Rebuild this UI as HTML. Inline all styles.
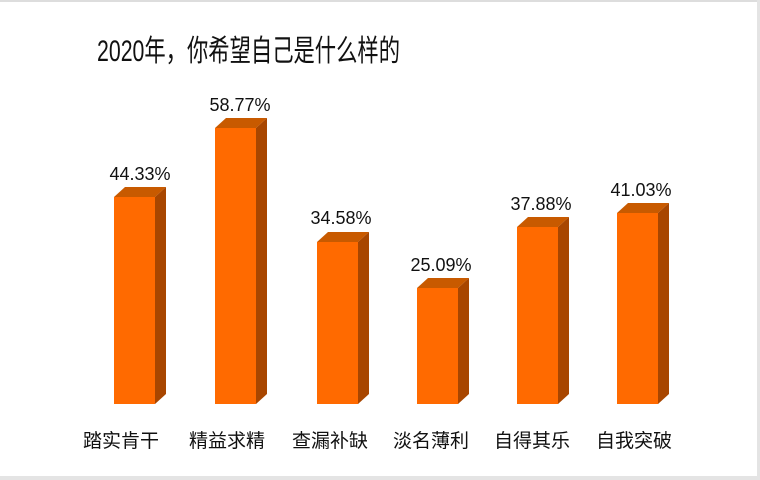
<!DOCTYPE html>
<html><head><meta charset="utf-8"><style>
body{margin:0;background:#fff}
svg{display:block}
text{font-family:"Liberation Sans","Noto Sans CJK SC",sans-serif;fill:#111}
</style></head><body>
<svg width="760" height="480" viewBox="0 0 760 480">
<rect width="760" height="480" fill="#fff"/>
<rect x="0" y="0" width="760" height="2" fill="#ddd"/>
<rect x="757" y="0" width="3" height="480" fill="#e4e4e4"/>
<rect x="0" y="476" width="760" height="4" fill="#e4e4e4"/>
<text x="97" y="61" font-size="30" textLength="303" lengthAdjust="spacingAndGlyphs">2020年，你希望自己是什么样的</text>
<g>
<polygon points="114,197 125,187 166,187 155,197" fill="#c85a00"/>
<polygon points="155,197 166,187 166,394 155,404" fill="#a84600"/>
<rect x="114" y="197" width="41" height="207" fill="#ff6a00"/>
<polygon points="215,128 226,118 267,118 256,128" fill="#c85a00"/>
<polygon points="256,128 267,118 267,394 256,404" fill="#a84600"/>
<rect x="215" y="128" width="41" height="276" fill="#ff6a00"/>
<polygon points="317,242 328,232 369,232 358,242" fill="#c85a00"/>
<polygon points="358,242 369,232 369,394 358,404" fill="#a84600"/>
<rect x="317" y="242" width="41" height="162" fill="#ff6a00"/>
<polygon points="417,288 428,278 469,278 458,288" fill="#c85a00"/>
<polygon points="458,288 469,278 469,394 458,404" fill="#a84600"/>
<rect x="417" y="288" width="41" height="116" fill="#ff6a00"/>
<polygon points="517,227 528,217 569,217 558,227" fill="#c85a00"/>
<polygon points="558,227 569,217 569,394 558,404" fill="#a84600"/>
<rect x="517" y="227" width="41" height="177" fill="#ff6a00"/>
<polygon points="617,213 628,203 669,203 658,213" fill="#c85a00"/>
<polygon points="658,213 669,203 669,394 658,404" fill="#a84600"/>
<rect x="617" y="213" width="41" height="191" fill="#ff6a00"/>
</g>
<g font-size="18" text-anchor="middle">
<text x="140" y="180">44.33%</text>
<text x="240" y="111">58.77%</text>
<text x="341" y="224">34.58%</text>
<text x="441" y="271">25.09%</text>
<text x="541" y="210">37.88%</text>
<text x="641" y="196">41.03%</text>
</g>
<g font-size="19" text-anchor="middle">
<text x="121" y="447">踏实肯干</text>
<text x="227" y="447">精益求精</text>
<text x="330" y="447">查漏补缺</text>
<text x="431" y="447">淡名薄利</text>
<text x="532" y="447">自得其乐</text>
<text x="634" y="447">自我突破</text>
</g>
</svg>
</body></html>
